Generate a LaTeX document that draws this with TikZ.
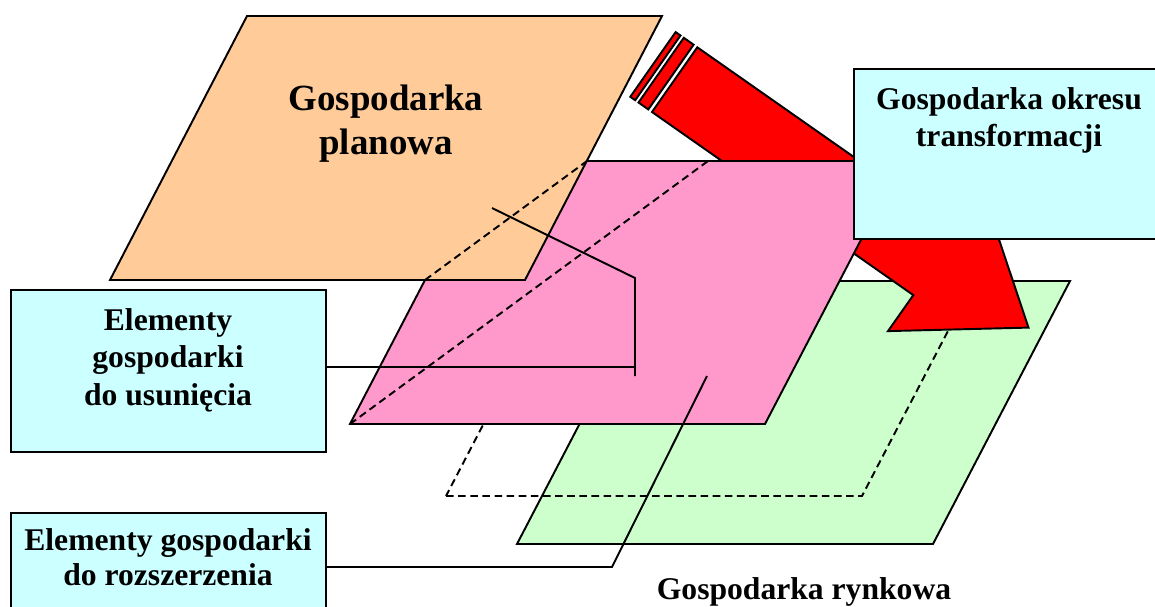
\documentclass[tikz,border=0pt]{standalone}
\usepackage{fontspec}
\setmainfont{Liberation Serif}
\definecolor{orangefill}{HTML}{FFCC99}
\definecolor{pinkfill}{HTML}{FF99CC}
\definecolor{greenfill}{HTML}{CCFFCC}
\definecolor{cyanfill}{HTML}{CCFFFF}
\definecolor{redfill}{HTML}{FF0000}
\begin{document}
\begin{tikzpicture}[x=0.02cm,y=-0.02cm,line join=miter]
\tikzset{
  plane/.style={draw=black,line width=1.1pt},
  hiddenline/.style={draw=black,line width=1.1pt,dash pattern=on 4.3pt off 2.6pt},
  callout/.style={draw=black,line width=1.1pt},
  arrowpart/.style={draw=black,line width=1.1pt,fill=redfill},
  infobox/.style={draw=black,line width=1.1pt,fill=cyanfill,rectangle,inner sep=0pt,anchor=north west},
  boxtext/.style={font=\fontsize{18}{21.3}\selectfont\bfseries,align=center,inner sep=0pt},
  titletext/.style={font=\fontsize{21}{25}\selectfont\bfseries,align=center,inner sep=0pt},
}
\clip (0,0) rectangle (1155,606);
\fill[white] (0,0) rectangle (1155,606);

% market economy plane
\filldraw[plane,fill=greenfill] (517,544) -- (933,544) -- (1070,281) -- (654,281) -- cycle;
% hidden (dashed) plane
\draw[hiddenline] (446,496) -- (862,496) -- (999,233) -- (583,233) -- cycle;

% red striped arrow
\filldraw[arrowpart] (630.3,96.8) -- (635.2,100.2) -- (680.5,35.5) -- (675.6,32.1) -- cycle;
\filldraw[arrowpart] (638.5,102.5) -- (648.3,109.4) -- (693.6,44.7) -- (683.8,37.8) -- cycle;
\filldraw[arrowpart] (652,112) -- (697.3,47.3) -- (958.6,230.4) -- (983.9,194.4)
   -- (1028.5,327.6) -- (888,331.1) -- (913.3,295.1) -- cycle;

% transformation plane
\filldraw[plane,fill=pinkfill] (350,424) -- (765,424) -- (902,161) -- (487,161) -- cycle;
% planned economy plane
\filldraw[plane,fill=orangefill] (110,280) -- (525,280) -- (662,16) -- (247,16) -- cycle;

% dashed projection lines
\draw[hiddenline] (350,424) -- (708,161);
\draw[hiddenline] (425,280) -- (587,161);

% boxes
\node[infobox,minimum width=6.24cm,minimum height=3.4cm] (boxA) at (853,68) {};
\node[infobox,minimum width=6.3cm,minimum height=3.24cm] (boxB) at (10,289) {};
\node[infobox,minimum width=6.3cm,minimum height=2.3cm] (boxC) at (10,512) {};

% callout connectors
\coordinate (b2) at (635,367);
\coordinate (b3) at (635,376);
\coordinate (b4) at (635,278);
\coordinate (b5) at (492,208);
\draw[callout] (boxB.east |- b2) -- (b2);
\draw[callout] (b3) -- (b4) -- (b5);
\coordinate (c2) at (612,567);
\coordinate (c3) at (707,376);
\draw[callout] (boxC.east |- c2) -- (c2) -- (c3);

% texts
\node[titletext,anchor=north] (title) at (386,85) {Gospodarka\\planowa};
\node[boxtext,anchor=north] (txtA) at (1009,87) {Gospodarka okresu\\transformacji};
\node[boxtext,anchor=north] (txtB) at (168,308) {Elementy\\gospodarki\\do usunięcia};
\node[boxtext,anchor=north,font=\fontsize{18}{20}\selectfont\bfseries] (txtC) at (168,528) {Elementy gospodarki\\do rozszerzenia};
\node[boxtext,anchor=base] (txtD) at (804,599) {Gospodarka rynkowa};
\end{tikzpicture}
\end{document}
